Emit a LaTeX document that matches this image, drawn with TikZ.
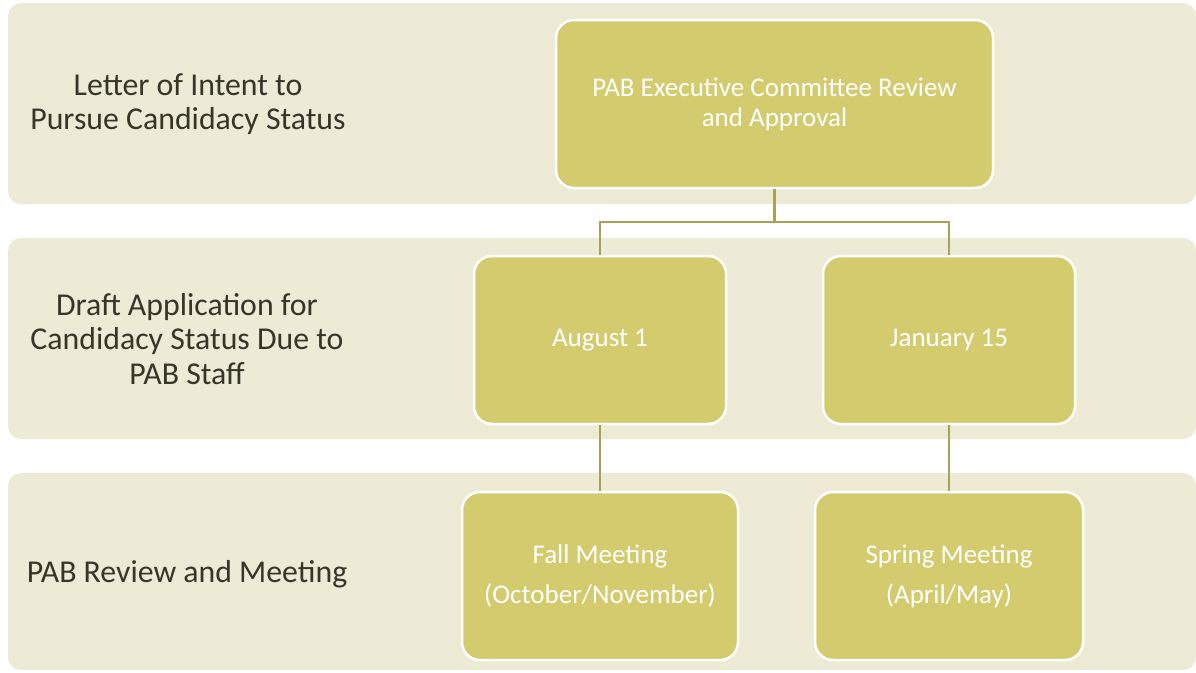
\documentclass[tikz,border=0pt]{standalone}
\usepackage{fontspec}
\setmainfont{Carlito}
\definecolor{bandfill}{HTML}{EDEAD5}
\definecolor{boxfill}{HTML}{D3CB6E}
\definecolor{conncol}{HTML}{A9A155}
\definecolor{labeltext}{HTML}{35352A}
\begin{document}
\begin{tikzpicture}[x=1pt,y=-1pt,
  bandst/.style={fill=bandfill, draw=none, rounded corners=13pt},
  boxst/.style={draw=white, line width=2.5pt, fill=boxfill, rounded corners=18pt,
    text=white, font=\fontsize{27}{30}\selectfont, align=center, inner sep=0pt},
  lbl/.style={text=labeltext, font=\fontsize{31.8}{34.5}\selectfont, align=center, inner sep=0pt},
  connst/.style={draw=conncol, line width=2.5pt}]
\useasboundingbox (0,0) rectangle (1196,672);
\fill[white] (0,0) rectangle (1196,672);
% bands
\path[bandst] (8,3) rectangle (1196,204);
\path[bandst] (8,238) rectangle (1196,439);
\path[bandst] (8,473) rectangle (1196,670);
% band labels
\node[lbl] (l1) at (188,104) {Letter of Intent to\\Pursue Candidacy Status};
\node[lbl] (l2) at (187,339) {Draft Application for\\Candidacy Status Due to\\PAB Staff};
\node[lbl] (l3) at (187,574) {PAB Review and Meeting};
% boxes
\node[boxst, minimum width=437pt, minimum height=168pt] (top) at (774.5,104)
  {PAB Executive Committee Review\\and Approval};
\node[boxst, minimum width=252pt, minimum height=168pt] (aug) at (600,340) {August 1};
\node[boxst, minimum width=252pt, minimum height=168pt] (jan) at (949,340) {January 15};
\node[boxst, minimum width=276pt, minimum height=168pt] (fall) at (600,576)
  {Fall Meeting\\[10pt](October/November)};
\node[boxst, minimum width=268pt, minimum height=168pt] (spring) at (949,576)
  {Spring Meeting\\[10pt](April/May)};
% connectors
\coordinate (mid) at (774.5,222);
\draw[connst] (top.south) -- (mid) -| (aug.north);
\draw[connst] (mid) -| (jan.north);
\draw[connst] (aug.south) -- (fall.north);
\draw[connst] (jan.south) -- (spring.north);
\end{tikzpicture}
\end{document}
